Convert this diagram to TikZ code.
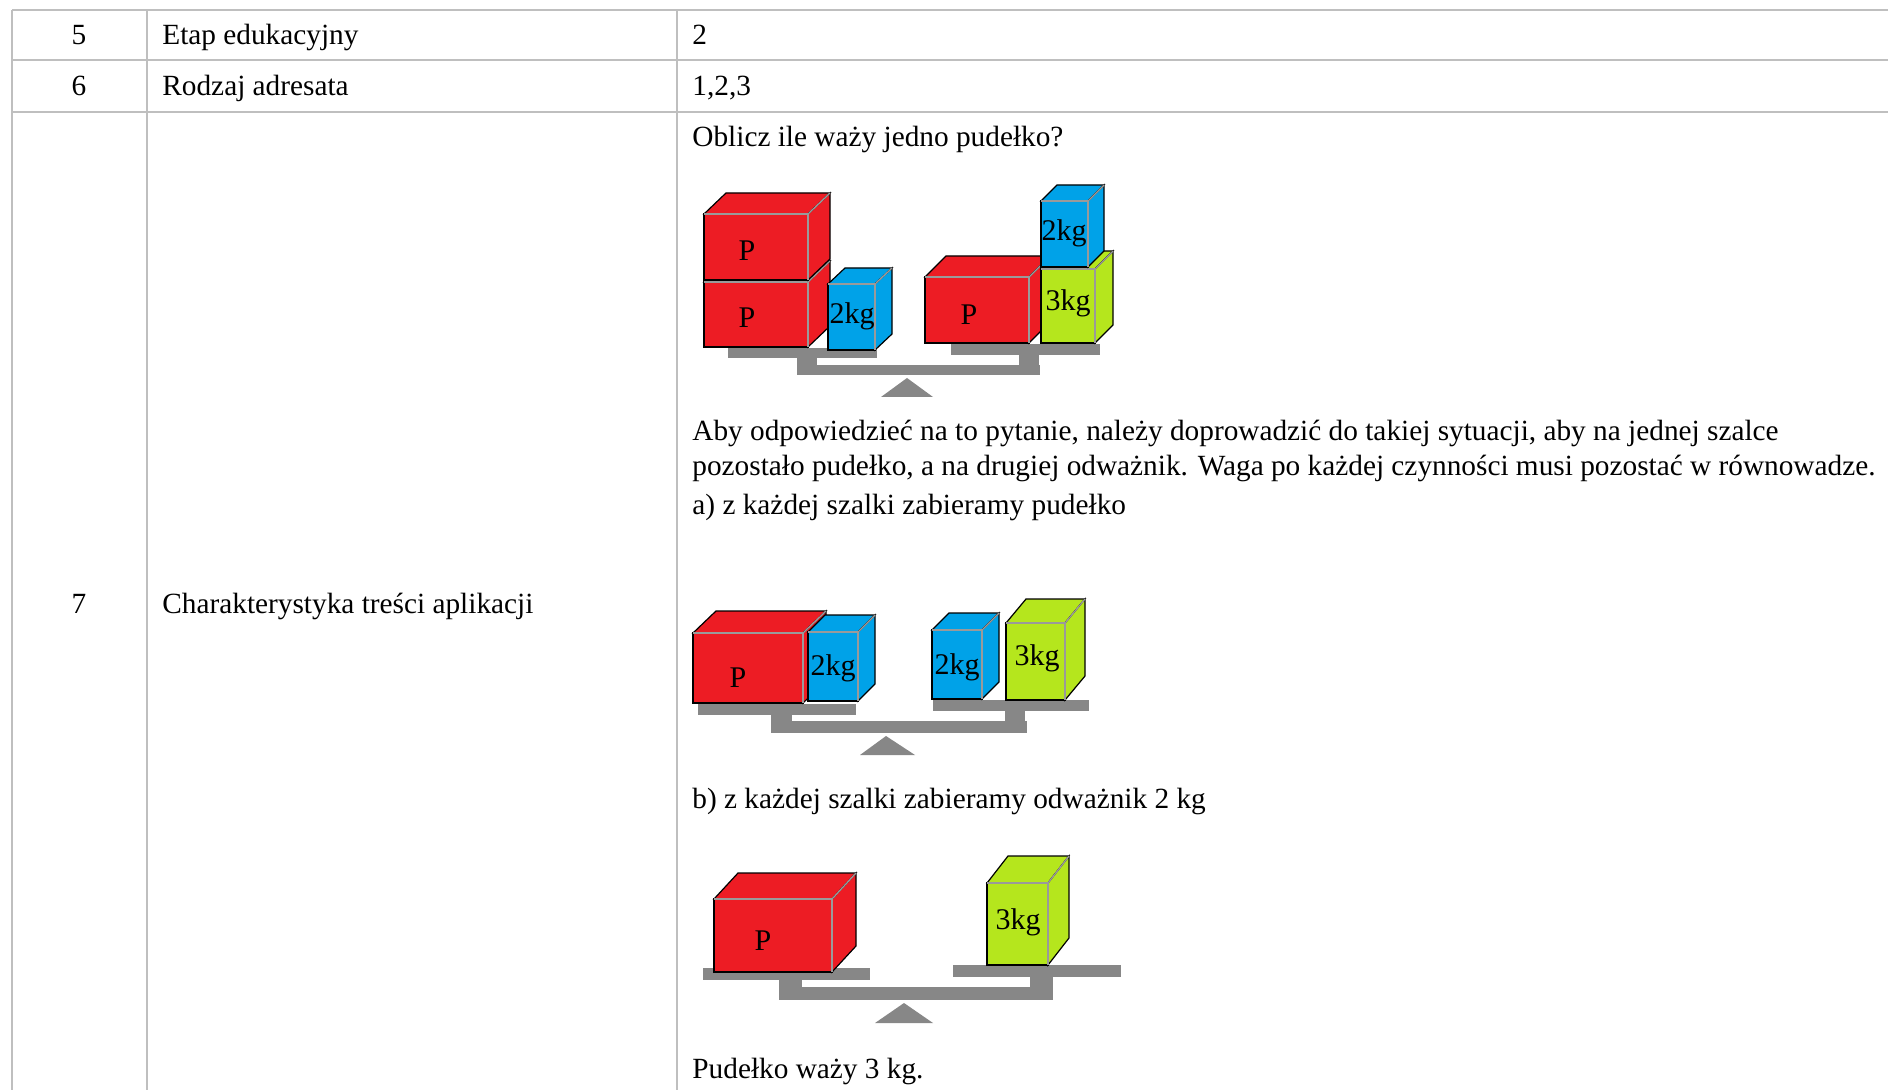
\documentclass[tikz,border=0pt]{standalone}
\usepackage{fontspec}
\setmainfont{Liberation Serif}
\definecolor{gridgray}{HTML}{BFBFBF}
\definecolor{boxred}{HTML}{ED1C24}
\definecolor{boxblue}{HTML}{00A2E8}
\definecolor{boxlime}{HTML}{B5E61D}
\definecolor{balgray}{HTML}{878787}
\definecolor{seamgray}{HTML}{9A9A9A}
% #1,#2 front top-left; #3,#4 front bottom-right; #5,#6 depth (right, up); #7 colour
\newcommand{\drawcrate}[7]{%
  \filldraw[cubeedge, fill=#7] (#1,#2) -- (#1+#5,#2-#6) -- (#3+#5,#2-#6) -- (#3,#2) -- cycle;
  \filldraw[cubeedge, fill=#7] (#3,#2) -- (#3+#5,#2-#6) -- (#3+#5,#4-#6) -- (#3,#4) -- cycle;
  \filldraw[cubeedge, fill=#7] (#1,#2) rectangle (#3,#4);
  \draw[seam] (#1,#2) -- (#3,#2) -- (#3,#4);
  \draw[seam] (#3,#2) -- (#3+#5,#2-#6);
}
\begin{document}
\begin{tikzpicture}[x=0.5pt,y=-0.5pt,
  grid/.style={draw=gridgray, line width=1pt},
  txt/.style={inner sep=0pt, anchor=base west, font=\fontsize{14.65}{17}\selectfont},
  num/.style={inner sep=0pt, anchor=base, font=\fontsize{14.65}{17}\selectfont},
  lbl/.style={inner sep=0pt, font=\fontsize{15}{17}\selectfont},
  cubeedge/.style={draw=black, line width=0.6pt, line join=miter},
  seam/.style={draw=seamgray, line width=0.7pt},
  bal/.style={fill=balgray}]
\useasboundingbox (0,0) rectangle (1888,1090);

% table rules
\draw[grid] (12,10) -- (1888,10);
\draw[grid] (12,60) -- (1888,60);
\draw[grid] (12,112) -- (1888,112);
\draw[grid] (12,10) -- (12,1090);
\draw[grid] (147,10) -- (147,1090);
\draw[grid] (677,10) -- (677,1090);

% table text
\node[num] (n5) at (79,45) {5};
\node[txt] (t5) at (162,45) {Etap edukacyjny};
\node[txt] (v5) at (692,45) {2};
\node[num] (n6) at (79,96) {6};
\node[txt] (t6) at (162,96) {Rodzaj adresata};
\node[txt] (v6) at (692,96) {1,2,3};
\node[num] (n7) at (79,613) {7};
\node[txt] (t7) at (162,613) {Charakterystyka treści aplikacji};
\node[txt] (q) at (692,147) {Oblicz ile waży jedno pudełko?};
\node[txt] (p1) at (692,441) {Aby odpowiedzieć na to pytanie, należy doprowadzić do takiej sytuacji, aby na jednej szalce};
\node[txt] (p2) at (692,476) {pozostało pudełko, a na drugiej odważnik. Waga po każdej czynności musi pozostać w równowadze.};
\node[txt] (sa) at (692,515) {a) z każdej szalki zabieramy pudełko};
\node[txt] (sb) at (692,808) {b) z każdej szalki zabieramy odważnik 2 kg};
\node[txt] (ans) at (692,1078) {Pudełko waży 3 kg.};

% ---- first balance ----
\fill[bal] (728,348) rectangle (877,358);
\fill[bal] (797,357) rectangle (817,366);
\fill[bal] (797,365) rectangle (1040,375);
\fill[bal] (1019,354) rectangle (1039,366);
\fill[bal] (951,344) rectangle (1100,355);
\fill[bal] (907,378) -- (933,397) -- (881,397) -- cycle;
\drawcrate{704}{282}{808}{347}{22}{21}{boxred}
\drawcrate{704}{214}{808}{280}{22}{21}{boxred}
\drawcrate{828}{284}{875}{350}{17}{16}{boxblue}
\drawcrate{925}{277}{1029}{343}{21}{21}{boxred}
\drawcrate{1041}{269}{1095}{343}{18}{18}{boxlime}
\drawcrate{1041}{201}{1088}{267}{16}{16}{boxblue}
\node[lbl] (a1) at (747,251) {P};
\node[lbl] (a2) at (747,318) {P};
\node[lbl] (a3) at (852,316) {2kg};
\node[lbl] (a4) at (969,315) {P};
\node[lbl] (a5) at (1064,233) {2kg};
\node[lbl] (a6) at (1068,303) {3kg};

% ---- second balance ----
\fill[bal] (698,704) rectangle (856,715);
\fill[bal] (771,714) rectangle (792,722);
\fill[bal] (771,721) rectangle (1027,733);
\fill[bal] (1005,710) rectangle (1025,722);
\fill[bal] (933,700) rectangle (1089,711);
\fill[bal] (886,736) -- (915,755) -- (860,755) -- cycle;
\drawcrate{693}{633}{803}{703}{23}{22}{boxred}
\drawcrate{808}{632}{858}{701}{17}{17}{boxblue}
\drawcrate{932}{630}{982}{699}{17}{17}{boxblue}
\drawcrate{1006}{623}{1065}{700}{20}{24}{boxlime}
\node[lbl] (b1) at (738,678) {P};
\node[lbl] (b2) at (833,668) {2kg};
\node[lbl] (b3) at (957,667) {2kg};
\node[lbl] (b4) at (1037,658) {3kg};

% ---- third balance ----
\fill[bal] (703,968) rectangle (870,980);
\fill[bal] (779,979) rectangle (802,988);
\fill[bal] (779,987) rectangle (1053,1000);
\fill[bal] (1030,976) rectangle (1053,988);
\fill[bal] (953,965) rectangle (1121,977);
\fill[bal] (904,1003) -- (933,1023) -- (875,1023) -- cycle;
\drawcrate{714}{899}{832}{972}{24}{26}{boxred}
\drawcrate{987}{883}{1048}{965}{21}{27}{boxlime}
\node[lbl] (c1) at (763,941) {P};
\node[lbl] (c2) at (1018,922) {3kg};
\end{tikzpicture}
\end{document}
